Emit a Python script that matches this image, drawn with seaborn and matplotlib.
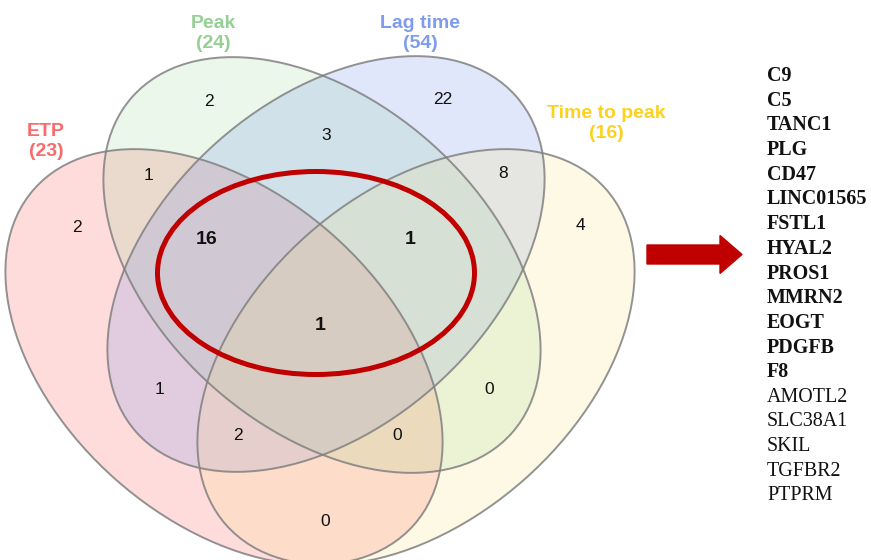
import matplotlib
matplotlib.use("Agg")
import matplotlib.pyplot as plt
from matplotlib.patches import Ellipse, FancyArrow
import seaborn as sns

# ---------------- data ----------------
set_names = ["ETP", "Peak", "Lag time", "Time to peak"]
set_sizes = [23, 24, 54, 16]

# region membership code: ETP, Peak, Lag time, Time to peak
region_codes = ["1000", "0100", "0010", "0001",
                "1100", "1010", "1001", "0110", "0101", "0011",
                "1110", "1101", "1011", "0111", "1111"]
region_counts = [2, 2, 22, 4,
                 1, 1, 0, 3, 0, 8,
                 16, 0, 2, 1, 1]
highlighted = ["1110", "0111", "1111"]

genes = ["C9", "C5", "TANC1", "PLG", "CD47", "LINC01565", "FSTL1", "HYAL2",
         "PROS1", "MMRN2", "EOGT", "PDGFB", "F8",
         "AMOTL2", "SLC38A1", "SKIL", "TGFBR2", "PTPRM"]
gene_in_all_highlight = [True] * 13 + [False] * 5

# ---------------- layout / style ----------------
sns.set_theme(style="white")
plt.rcParams["font.family"] = ["Liberation Sans", "DejaVu Sans"]

fill_colors = ["#FF3D3D", "#90D390", "#5E7FEE", "#F9DE74"]
label_colors = ["#F86A6C", "#94D094", "#7E9BEE", "#FDD21E"]
ell_centers = [(224, 357), (322, 265), (326, 264), (416, 357)]
ell_angles = [41.5, 41.5, -41.5, -41.5]
ell_w, ell_h = 507, 327

set_label_pos = [(46, 132), (213, 23), (420, 23), (606, 114)]
region_pos = {
    "1000": (77, 227), "0100": (209, 102), "0010": (443, 99), "0001": (580, 225),
    "1100": (148, 176), "1010": (159, 389), "1001": (325, 521), "0110": (326, 135),
    "0101": (489, 390), "0011": (503, 174), "1110": (207, 240), "1101": (397, 435),
    "1011": (238, 435), "0111": (410, 240), "1111": (320, 325),
}

fig = plt.figure(figsize=(8.71, 5.60), dpi=100)
ax = fig.add_axes([0, 0, 1, 1])
ax.set_xlim(0, 871)
ax.set_ylim(560, 0)
ax.set_axis_off()

for c, a, col in zip(ell_centers, ell_angles, fill_colors):
    ax.add_patch(Ellipse(c, ell_w, ell_h, angle=a, facecolor=col, alpha=0.18,
                         edgecolor="none", zorder=1))
for c, a in zip(ell_centers, ell_angles):
    ax.add_patch(Ellipse(c, ell_w, ell_h, angle=a, facecolor="none",
                         edgecolor="#808080", lw=1.4, alpha=0.85, zorder=2))

for name, size, (x, y), col in zip(set_names, set_sizes, set_label_pos, label_colors):
    ax.text(x, y, name, color=col, fontsize=14, fontweight="bold",
            ha="center", va="center", zorder=5)
    ax.text(x, y + 20, f"({size})", color=col, fontsize=14, fontweight="bold",
            ha="center", va="center", zorder=5)

for code, cnt in zip(region_codes, region_counts):
    x, y = region_pos[code]
    bold = code in highlighted
    ax.text(x, y, str(cnt), fontsize=14 if bold else 12.5,
            fontweight="bold" if bold else "normal", color="#111111",
            ha="center", va="center", zorder=5)

# highlight ring
ax.add_patch(Ellipse((316, 273), 317, 203, facecolor="none",
                     edgecolor="#C00000", lw=3.6, zorder=4))

# arrow
ax.add_patch(FancyArrow(647, 254.5, 95, 0, width=19, head_width=38,
                        head_length=22, length_includes_head=True,
                        color="#C00000", zorder=4))

# gene list
for i, (g, b) in enumerate(zip(genes, gene_in_all_highlight)):
    ax.text(767, 76 + i * 24.7, g, fontsize=14.4,
            family=["Liberation Serif", "DejaVu Serif"],
            fontweight="bold" if b else "normal", color="#111111",
            ha="left", va="center", zorder=5)

fig.savefig("out.png", dpi=100)
